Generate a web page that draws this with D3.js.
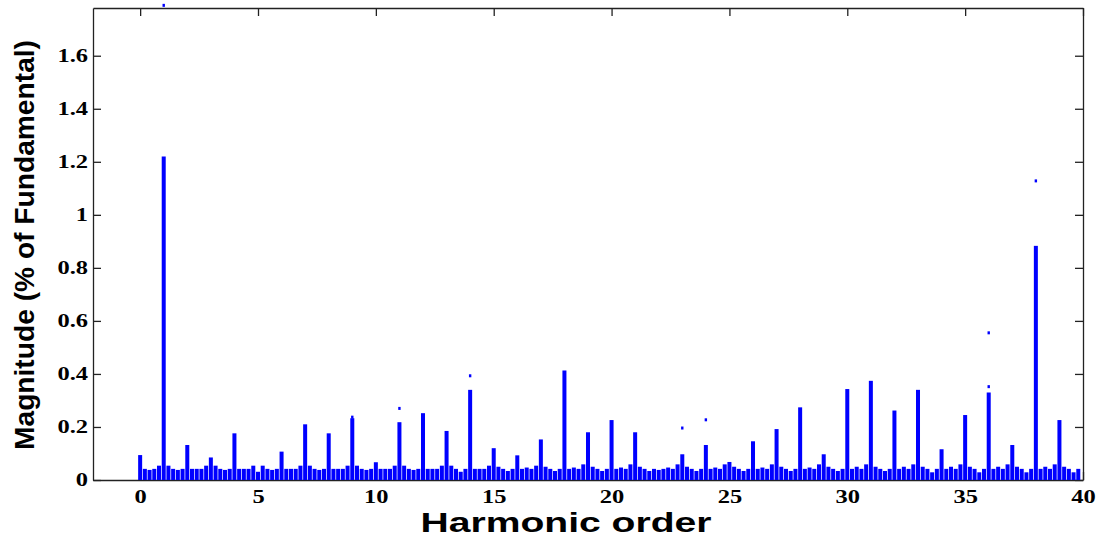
<!DOCTYPE html>
<html>
<head>
<meta charset="utf-8">
<script src="https://cdn.jsdelivr.net/npm/d3@7/dist/d3.min.js"></script>
<style>
  body { margin: 0; background: #fff; }
  svg { display: block; }
</style>
</head>
<body>
<svg id="chart" width="1103" height="540"></svg>
<script>
// one row per integer harmonic: values at h, h+0.2, h+0.4, h+0.6, h+0.8
const harmonics = [0,1,2,3,4,5,6,7,8,9,10,11,12,13,14,15,16,17,18,19,20,21,22,23,24,25,26,27,28,29,30,31,32,33,34,35,36,37,38,39];
const subStep = 0.2;
const magnitudeRows = [
  [0.094, 0.042, 0.038, 0.042, 0.054],
  [1.220, 0.054, 0.042, 0.038, 0.042],
  [0.132, 0.042, 0.042, 0.042, 0.054],
  [0.085, 0.054, 0.042, 0.038, 0.042],
  [0.176, 0.042, 0.042, 0.042, 0.054],
  [0.031, 0.054, 0.042, 0.038, 0.042],
  [0.107, 0.042, 0.042, 0.042, 0.054],
  [0.210, 0.054, 0.042, 0.038, 0.042],
  [0.176, 0.042, 0.042, 0.042, 0.054],
  [0.233, 0.054, 0.042, 0.038, 0.042],
  [0.067, 0.042, 0.042, 0.042, 0.054],
  [0.218, 0.054, 0.042, 0.038, 0.042],
  [0.252, 0.042, 0.042, 0.042, 0.054],
  [0.185, 0.054, 0.042, 0.031, 0.042],
  [0.340, 0.042, 0.042, 0.042, 0.054],
  [0.120, 0.050, 0.042, 0.034, 0.042],
  [0.093, 0.042, 0.047, 0.042, 0.054],
  [0.153, 0.050, 0.042, 0.034, 0.042],
  [0.413, 0.042, 0.047, 0.042, 0.059],
  [0.180, 0.050, 0.042, 0.034, 0.042],
  [0.226, 0.042, 0.047, 0.042, 0.059],
  [0.180, 0.050, 0.042, 0.034, 0.042],
  [0.038, 0.042, 0.047, 0.042, 0.059],
  [0.097, 0.050, 0.042, 0.034, 0.042],
  [0.132, 0.042, 0.047, 0.042, 0.059],
  [0.068, 0.050, 0.042, 0.034, 0.042],
  [0.146, 0.042, 0.047, 0.042, 0.059],
  [0.192, 0.050, 0.042, 0.034, 0.042],
  [0.274, 0.042, 0.047, 0.042, 0.059],
  [0.097, 0.050, 0.042, 0.034, 0.042],
  [0.343, 0.042, 0.050, 0.042, 0.059],
  [0.374, 0.050, 0.042, 0.034, 0.042],
  [0.262, 0.042, 0.050, 0.042, 0.059],
  [0.340, 0.050, 0.042, 0.029, 0.042],
  [0.116, 0.042, 0.050, 0.042, 0.059],
  [0.245, 0.050, 0.042, 0.029, 0.042],
  [0.330, 0.042, 0.050, 0.042, 0.059],
  [0.132, 0.050, 0.042, 0.029, 0.042],
  [0.883, 0.042, 0.050, 0.042, 0.059],
  [0.226, 0.050, 0.042, 0.029, 0.042]
];

// stray peak marks that sit above some bars
const markerOrder = [1, 9, 11, 14, 23, 24, 36, 36, 38];
const markerValue = [1.79, 0.237, 0.27, 0.393, 0.196, 0.227, 0.352, 0.555, 1.128];

const xTicks = [0, 5, 10, 15, 20, 25, 30, 35, 40];
const yTicks = [0, 0.2, 0.4, 0.6, 0.8, 1, 1.2, 1.4, 1.6];
const yTickLabels = ['0', '0.2', '0.4', '0.6', '0.8', '1', '1.2', '1.4', '1.6'];

const xLabel = 'Harmonic order';
const yLabel = 'Magnitude (% of Fundamental)';

const bars = [];
harmonics.forEach((h, r) => {
  magnitudeRows[r].forEach((v, k) => bars.push({ order: h + k * subStep, value: v }));
});

const plotLeft = 93, plotRight = 1083, plotTop = 8, plotBottom = 480;
const svg = d3.select('#chart');

const x = d3.scaleLinear().domain([-2, 40]).range([plotLeft, plotRight]);
const y = d3.scaleLinear().domain([0, 1.78]).range([plotBottom, plotTop]);

const tickFont = '"Liberation Serif", "Times New Roman", serif';
const titleFont = '"Liberation Sans", Arial, sans-serif';

function styleAxis(g) {
  g.select('.domain').attr('stroke', '#222').attr('stroke-width', 1.3);
  g.selectAll('.tick line').attr('stroke', '#222').attr('stroke-width', 1.3);
  g.selectAll('.tick text')
    .attr('fill', '#000')
    .style('font-family', tickFont)
    .style('font-weight', 'bold')
    .style('font-size', '18px');
}

// frame with inward ticks on all four sides
svg.append('g')
  .attr('transform', `translate(0,${plotTop})`)
  .call(d3.axisTop(x).tickValues(xTicks).tickSize(-8).tickSizeOuter(0).tickFormat(''))
  .call(styleAxis);

svg.append('g')
  .attr('transform', `translate(${plotRight},0)`)
  .call(d3.axisRight(y).tickValues(yTicks).tickSize(-8).tickSizeOuter(0).tickFormat(''))
  .call(styleAxis);

svg.append('g')
  .attr('transform', `translate(0,${plotBottom})`)
  .call(d3.axisBottom(x).tickValues(xTicks).tickSize(-8).tickSizeOuter(0).tickPadding(10))
  .call(styleAxis);

svg.append('g')
  .attr('transform', `translate(${plotLeft},0)`)
  .call(d3.axisLeft(y).tickValues(yTicks).tickSize(-8).tickSizeOuter(0).tickPadding(5)
    .tickFormat((d, i) => yTickLabels[i]))
  .call(styleAxis);

// labels in the picture are wider than the font's natural width
svg.selectAll('.tick text').each(function () {
  const w = this.getComputedTextLength();
  if (w > 0) d3.select(this).attr('textLength', w * 1.36).attr('lengthAdjust', 'spacingAndGlyphs');
});

// bars
const step = x(subStep) - x(0);
const barW = step * 0.85;

svg.append('g')
  .selectAll('rect')
  .data(bars)
  .join('rect')
  .attr('x', d => x(d.order) - barW / 2)
  .attr('y', d => y(d.value))
  .attr('width', barW)
  .attr('height', d => y(0) - y(d.value))
  .attr('fill', '#0000ff');

svg.append('g')
  .selectAll('rect')
  .data(markerOrder.map((o, i) => ({ order: o, value: markerValue[i] })))
  .join('rect')
  .attr('x', d => x(d.order) - 1.2)
  .attr('y', d => y(d.value) - 1.5)
  .attr('width', 2.4)
  .attr('height', 3)
  .attr('fill', '#0000ff');

// axis titles
svg.append('text')
  .attr('x', 566)
  .attr('y', 532)
  .attr('text-anchor', 'middle')
  .attr('textLength', 291)
  .attr('lengthAdjust', 'spacingAndGlyphs')
  .style('font-family', titleFont)
  .style('font-weight', 'bold')
  .style('font-size', '27px')
  .text(xLabel);

svg.append('text')
  .attr('transform', 'translate(34,245) rotate(-90)')
  .attr('text-anchor', 'middle')
  .attr('textLength', 410)
  .attr('lengthAdjust', 'spacingAndGlyphs')
  .style('font-family', titleFont)
  .style('font-weight', 'bold')
  .style('font-size', '28px')
  .text(yLabel);
</script>
</body>
</html>
